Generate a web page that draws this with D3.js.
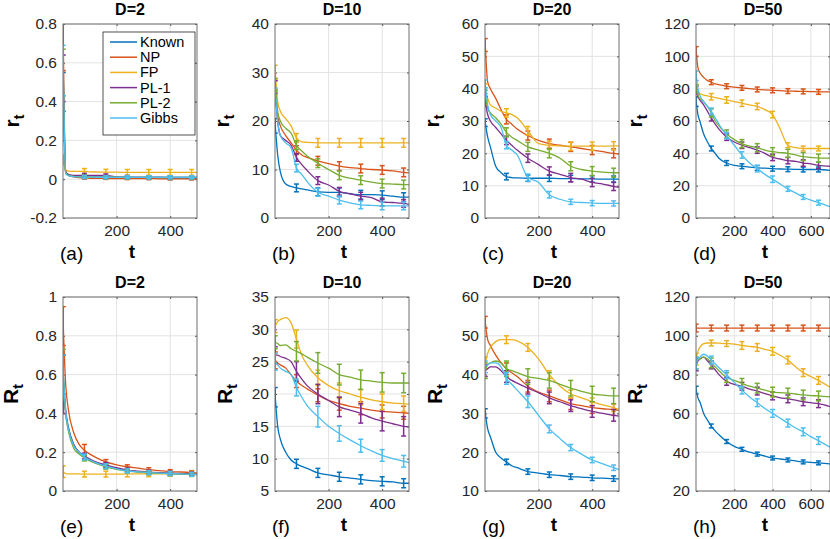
<!DOCTYPE html>
<html>
<head>
<meta charset="utf-8">
<script src="https://cdn.jsdelivr.net/npm/d3@7"></script>
<style>
body { margin: 0; background: #fff; }
svg { display: block; font-family: "Liberation Sans", Arial, Helvetica, sans-serif; }
</style>
</head>
<body>
<div id="chart"></div>
<script>
const methods = ["Known", "NP", "FP", "PL-1", "PL-2", "Gibbs"];
const methodColors = ["#0072BD", "#D95319", "#EDB120", "#7E2F8E", "#77AC30", "#4DBEEE"];

// time grids (D=2,10,20 run to 500, D=50 runs to 700)
const tShort = [1, 10, 20, 40, 60, 80, 100, 120, 160, 200, 240, 280, 320, 360, 400, 440, 480, 500];
const tLong = [1, 10, 20, 40, 60, 80, 100, 120, 160, 200, 240, 280, 320, 360, 400, 440, 480, 520, 560, 600, 640, 700];
const barShort = [1, 80, 160, 240, 320, 400, 480];
const barLong = [1, 80, 160, 240, 320, 400, 480, 560, 640];

// (a) r_t, D=2 -- rows follow `methods`
const rD2 = [
	[0.45, 0.03, 0.02, 0.015, 0.013, 0.012, 0.011, 0.01, 0.01, 0.009, 0.008, 0.008, 0.007, 0.007, 0.006, 0.006, 0.006, 0.006],
	[0.7, 0.04, 0.02, 0.012, 0.008, 0.006, 0.005, 0.004, 0.004, 0.003, 0.003, 0.003, 0.003, 0.002, 0.002, 0.002, 0.002, 0.002],
	[0.1, 0.045, 0.042, 0.04, 0.04, 0.04, 0.038, 0.037, 0.036, 0.036, 0.035, 0.035, 0.035, 0.035, 0.035, 0.035, 0.035, 0.035],
	[0.52, 0.04, 0.025, 0.02, 0.02, 0.02, 0.02, 0.019, 0.019, 0.012, 0.011, 0.01, 0.01, 0.01, 0.009, 0.009, 0.009, 0.009],
	[0.55, 0.035, 0.02, 0.015, 0.013, 0.012, 0.011, 0.011, 0.01, 0.01, 0.01, 0.009, 0.009, 0.009, 0.009, 0.009, 0.009, 0.009],
	[0.56, 0.03, 0.018, 0.013, 0.012, 0.011, 0.011, 0.01, 0.01, 0.01, 0.01, 0.01, 0.01, 0.01, 0.01, 0.01, 0.01, 0.01]
];
const rD2Err = [
	[0.1, 0.01, 0.008, 0.008, 0.008, 0.008, 0.008],
	[0.14, 0.006, 0.005, 0.005, 0.005, 0.005, 0.005],
	[0.025, 0.015, 0.015, 0.015, 0.015, 0.015, 0.015],
	[0.12, 0.01, 0.008, 0.008, 0.008, 0.008, 0.008],
	[0.12, 0.008, 0.008, 0.008, 0.008, 0.008, 0.008],
	[0.13, 0.008, 0.008, 0.008, 0.008, 0.008, 0.008]
];

// (b) r_t, D=10
const rD10 = [
	[19, 13, 9.5, 7, 6.5, 6.2, 6, 5.8, 5.4, 5.3, 5.3, 5, 4.8, 4.8, 4.7, 4.5, 4.3, 4.3],
	[25, 21, 19, 17, 15.5, 14, 13, 12.5, 11.8, 11.2, 10.7, 10.4, 10.2, 10, 9.9, 9.7, 9.4, 9.3],
	[30, 24, 22, 20.5, 19, 16.5, 15.7, 15.6, 15.5, 15.5, 15.5, 15.5, 15.5, 15.5, 15.5, 15.5, 15.5, 15.5],
	[27, 20, 17, 16, 15, 12.5, 11, 9.8, 7.7, 6.8, 5.5, 5, 4.5, 4.2, 3.3, 3.2, 3, 2.8],
	[27.5, 22, 20, 18.5, 17.5, 15, 13.8, 12.8, 11.3, 10, 8.8, 8.2, 7.8, 7.4, 7.1, 7, 6.9, 6.9],
	[25.5, 20, 17, 15.5, 14.5, 10.3, 9, 7.5, 5.3, 4.5, 3.7, 3.1, 2.7, 2.6, 2.5, 2.5, 2.5, 2.5]
];
const rD10Err = [
	[1.5, 0.8, 0.8, 0.9, 0.9, 0.9, 0.9],
	[1.5, 0.9, 0.9, 0.9, 0.9, 0.9, 0.9],
	[1.5, 0.9, 0.9, 0.9, 0.9, 0.9, 0.9],
	[1.3, 0.8, 0.8, 0.8, 0.8, 0.8, 0.8],
	[1.3, 0.9, 0.9, 0.9, 0.9, 0.9, 0.9],
	[1.3, 0.8, 0.8, 0.8, 0.8, 0.8, 0.8]
];

// (c) r_t, D=20
const rD20 = [
	[29.5, 25, 22, 16, 14, 12.8, 12.5, 12.4, 12.3, 12.3, 12.3, 12.2, 12.2, 12.1, 12.1, 12, 12, 12],
	[53.5, 42, 40, 37, 33.5, 30.5, 29, 27.5, 25.5, 24, 23, 22.5, 22, 21.5, 21, 20.5, 20, 19.8],
	[40, 37, 35, 34, 33, 32.5, 32, 31, 27, 23, 22.5, 22.3, 22.2, 22.2, 22.2, 22.2, 22.3, 22.3],
	[36, 32, 30, 28, 26, 24, 22.5, 21, 18.5, 16.5, 14.5, 13.5, 12.5, 12, 11, 10.5, 9.8, 9.5],
	[38, 34, 32.5, 31, 29, 26.5, 25, 24, 22, 21, 20, 18.5, 16, 15, 14.5, 14.2, 14, 14],
	[41.5, 35, 32, 30, 28, 22.5, 21, 19.5, 12.5, 11, 7.2, 5.8, 5, 4.8, 4.6, 4.5, 4.5, 4.5]
];
const rD20Err = [
	[1.2, 1, 1, 1, 1, 1, 1],
	[2, 1.4, 1.4, 1.4, 1.4, 1.4, 1.4],
	[1.5, 1.3, 1.3, 1.3, 1.3, 1.3, 1.3],
	[1.5, 1.3, 1.3, 1.3, 1.3, 1.3, 1.3],
	[1.5, 1.4, 1.4, 1.4, 1.4, 1.4, 1.4],
	[1.2, 1.1, 1.1, 1, 0.8, 0.8, 0.8]
];

// (d) r_t, D=50
const rD50 = [
	[72, 64, 60, 52, 47, 43, 40, 37, 34, 32.5, 32, 31.5, 31, 30.8, 30.5, 30.3, 30.2, 30.1, 30, 30, 30, 29.5],
	[103, 93, 90, 87, 85, 84, 83, 82.5, 81.5, 81, 80.5, 80, 79.5, 79.2, 79, 78.8, 78.5, 78.4, 78.3, 78.2, 78, 78],
	[80, 78, 77, 76, 75.5, 75, 74.5, 74, 73, 72, 71, 70, 69, 67, 64, 55, 45, 43.5, 43, 43, 43, 43],
	[79, 75, 73, 70, 66, 62, 58, 55, 50, 47, 45, 43.5, 42, 40, 37.5, 36.5, 35.5, 35, 34, 33.5, 32.5, 32],
	[80, 76, 74, 72, 69, 65, 60, 57, 52, 48.5, 46, 44.5, 43.5, 42, 41, 40.5, 40, 39, 38, 37.5, 37, 37],
	[88, 80, 76, 72, 69, 66, 62, 58, 51, 45, 39, 34, 30.5, 27, 24, 21, 18, 15.5, 13, 11, 9.5, 7]
];
const rD50Err = [
	[3, 1.5, 1.5, 1.5, 1.5, 1.5, 1.5, 1.5, 1.5],
	[3, 1.5, 1.5, 1.5, 1.5, 1.5, 1.5, 1.5, 1.5],
	[2.5, 2, 2, 2, 2, 2, 1.5, 1.5, 1.5],
	[2.5, 2, 2, 2, 2, 2, 2, 2, 2],
	[2.5, 2.5, 2.5, 2.5, 2.5, 2.5, 2.5, 2.5, 2.5],
	[3, 2, 2, 2, 2, 2, 1.5, 1.5, 1.5]
];

// (e) R_t, D=2
const cD2 = [
	[0.6, 0.42, 0.33, 0.24, 0.2, 0.175, 0.16, 0.148, 0.13, 0.115, 0.105, 0.1, 0.095, 0.092, 0.09, 0.088, 0.086, 0.085],
	[0.85, 0.55, 0.42, 0.3, 0.24, 0.21, 0.19, 0.175, 0.15, 0.135, 0.125, 0.118, 0.11, 0.105, 0.1, 0.098, 0.095, 0.093],
	[0.1, 0.09, 0.088, 0.088, 0.088, 0.087, 0.087, 0.087, 0.087, 0.087, 0.088, 0.088, 0.089, 0.089, 0.089, 0.089, 0.089, 0.089],
	[0.55, 0.4, 0.32, 0.24, 0.2, 0.18, 0.165, 0.152, 0.135, 0.12, 0.108, 0.102, 0.097, 0.094, 0.092, 0.09, 0.088, 0.087],
	[0.6, 0.4, 0.31, 0.22, 0.19, 0.17, 0.155, 0.143, 0.125, 0.112, 0.103, 0.098, 0.094, 0.091, 0.089, 0.087, 0.085, 0.084],
	[0.6, 0.41, 0.32, 0.235, 0.2, 0.175, 0.16, 0.148, 0.128, 0.114, 0.104, 0.099, 0.095, 0.092, 0.09, 0.088, 0.086, 0.085]
];
const cD2Err = [
	[0.1, 0.015, 0.012, 0.01, 0.01, 0.01, 0.01],
	[0.1, 0.03, 0.012, 0.01, 0.01, 0.01, 0.01],
	[0.03, 0.015, 0.015, 0.015, 0.015, 0.012, 0.012],
	[0.15, 0.015, 0.012, 0.01, 0.01, 0.01, 0.01],
	[0.13, 0.015, 0.012, 0.01, 0.01, 0.01, 0.01],
	[0.1, 0.015, 0.012, 0.01, 0.01, 0.01, 0.01]
];

// (f) R_t, D=10
const cD10 = [
	[19.5, 15, 13, 11, 9.8, 9.2, 8.8, 8.5, 7.8, 7.5, 7.2, 7, 6.8, 6.6, 6.5, 6.4, 6.2, 6.2],
	[25.2, 24.8, 24.5, 24, 23, 22, 21.3, 20.8, 19.8, 19, 18.5, 18.1, 17.8, 17.5, 17.3, 17.2, 17.1, 17],
	[30.5, 31.2, 31.5, 31.8, 31, 28.5, 26, 24.5, 22.5, 21.3, 20.5, 20, 19.5, 19.1, 18.8, 18.6, 18.5, 18.4],
	[26, 26, 25.8, 25.5, 25, 23.5, 22.3, 21.3, 20, 19, 18, 17.5, 17, 16.3, 15.8, 15.4, 15, 14.9],
	[28, 27.8, 27.5, 27.6, 27, 26.6, 26.2, 25.7, 24.8, 24, 23, 22.6, 22.2, 22, 21.8, 21.7, 21.7, 21.7],
	[25, 24.5, 24, 23.5, 23, 21, 19.5, 18.2, 16.5, 15, 13.9, 12.9, 12, 11.2, 10.5, 10, 9.6, 9.4]
];
const cD10Err = [
	[1.5, 0.7, 0.7, 0.7, 0.7, 0.7, 0.7],
	[1.3, 1, 1, 1, 1, 1, 1],
	[1, 1.4, 1.2, 1.2, 1.2, 1.2, 1.2],
	[1.3, 1.5, 1.5, 1.5, 1.5, 1.5, 1.5],
	[1, 1.5, 1.6, 1.6, 1.5, 1.5, 1.5],
	[1.3, 1.3, 1.6, 1.2, 1, 0.9, 0.9]
];

// (g) R_t, D=20
const cD20 = [
	[30, 26, 24, 20, 18.5, 17.5, 16.5, 16, 15, 14.6, 14.2, 14, 13.7, 13.6, 13.4, 13.3, 13.2, 13.1],
	[53.5, 49, 47.5, 45, 43, 41.5, 40.5, 39.5, 37, 35.5, 34.5, 33.5, 32.5, 32, 31.5, 31.2, 31, 30.8],
	[43, 45.5, 47, 48.5, 49, 49, 49, 48.7, 47, 44, 40, 37, 35, 34, 33, 32.2, 31.5, 31],
	[41, 41.5, 42, 42, 41, 39.5, 38.5, 37.8, 36.5, 35.3, 34, 33, 32, 31.2, 30.5, 30, 29.5, 29.3],
	[41, 42.5, 43, 43.5, 43, 41.5, 41, 40.5, 39.5, 39, 38.5, 37.5, 36.5, 35.7, 35, 34.7, 34.5, 34.5],
	[42, 42.5, 43, 43, 42, 39, 37.5, 36, 33, 29.5, 26, 23.5, 21.2, 19.5, 18, 17, 16, 15.5]
];
const cD20Err = [
	[1.2, 0.7, 0.7, 0.7, 0.7, 0.7, 0.7],
	[1.5, 1.5, 1.5, 1.5, 1.5, 1.5, 1.5],
	[1.5, 1, 1, 1, 1, 1, 1],
	[1.5, 1.5, 1.5, 1.5, 1.5, 1.5, 1.5],
	[2, 2, 2, 2, 2, 2, 2],
	[1.5, 1.5, 1.5, 1, 0.8, 0.7, 0.7]
];

// (h) R_t, D=50
const cD50 = [
	[72, 68, 66, 60, 56.5, 53.5, 51, 49, 45.5, 43, 41.5, 40, 39, 38, 37, 36.5, 36, 35.5, 35, 34.8, 34.5, 34],
	[104, 104, 104, 104, 104, 104, 104, 104, 104, 104, 104, 104, 104, 104, 104, 104, 104, 104, 104, 104, 104, 104],
	[88, 92, 94, 96, 96.3, 96.3, 96.3, 96.2, 96, 95.7, 95, 94.5, 94, 93, 92, 90, 87.5, 84, 81, 79, 77, 73.5],
	[85, 87, 88, 89, 87, 85, 82.5, 80, 76.5, 75, 74, 72.5, 71.5, 70.2, 69, 68, 67.5, 66.8, 66, 65.5, 65, 63.5],
	[86, 87.5, 88, 89, 88, 86, 84, 82, 78.5, 77, 75.5, 74, 73, 72, 71, 70.7, 70.5, 70, 69.5, 69.2, 69, 68.5],
	[86, 88, 89, 90.5, 89.5, 87.5, 85.5, 83.5, 80, 76, 72, 68.5, 65.5, 62.5, 60, 57.5, 55, 52.5, 50.5, 48, 46, 42.5]
];
const cD50Err = [
	[2, 1, 1, 1, 1, 1, 1, 1, 1],
	[2, 1.5, 1.5, 1.5, 1.5, 1.5, 1.5, 1.5, 1.5],
	[3, 1.5, 1.5, 2, 2, 2, 2, 2, 2],
	[3, 2, 2, 2, 2, 2, 2, 2, 2],
	[3, 2.5, 2.5, 2.5, 2.5, 2.5, 2.5, 2.5, 2.5],
	[3, 2, 2, 2, 2, 2, 2, 2, 2]
];

const panels = [
	{letter: "(a)", title: "D=2", label: "r", col: 0, row: 0, labelX: 19, t: tShort, bars: barShort, xMax: 500, yDomain: [-0.2, 0.8], yStep: 0.2, values: rD2, errors: rD2Err, legend: true},
	{letter: "(b)", title: "D=10", label: "r", col: 1, row: 0, labelX: 229, t: tShort, bars: barShort, xMax: 500, yDomain: [0, 40], yStep: 10, values: rD10, errors: rD10Err},
	{letter: "(c)", title: "D=20", label: "r", col: 2, row: 0, labelX: 439, t: tShort, bars: barShort, xMax: 500, yDomain: [0, 60], yStep: 10, values: rD20, errors: rD20Err},
	{letter: "(d)", title: "D=50", label: "r", col: 3, row: 0, labelX: 642, t: tLong, bars: barLong, xMax: 700, yDomain: [0, 120], yStep: 20, values: rD50, errors: rD50Err},
	{letter: "(e)", title: "D=2", label: "R", col: 0, row: 1, labelX: 18, t: tShort, bars: barShort, xMax: 500, yDomain: [0, 1], yStep: 0.2, values: cD2, errors: cD2Err},
	{letter: "(f)", title: "D=10", label: "R", col: 1, row: 1, labelX: 232, t: tShort, bars: barShort, xMax: 500, yDomain: [5, 35], yStep: 5, values: cD10, errors: cD10Err},
	{letter: "(g)", title: "D=20", label: "R", col: 2, row: 1, labelX: 442, t: tShort, bars: barShort, xMax: 500, yDomain: [10, 60], yStep: 10, values: cD20, errors: cD20Err},
	{letter: "(h)", title: "D=50", label: "R", col: 3, row: 1, labelX: 642, t: tLong, bars: barLong, xMax: 700, yDomain: [20, 120], yStep: 20, values: cD50, errors: cD50Err}
];

// layout
const width = 830;
const height = 539;
const colLeft = [63, 275, 485, 696];
const rowTop = [24, 297];
const plotW = 134;
const plotH = 194;
const textColor = "#262626";

/* eslint-disable indent */
const svg = d3.select("#chart")
	.append("svg")
		.attr("width", width)
		.attr("height", height);

panels.forEach((p, pi) => {
	const left = colLeft[p.col];
	const top = rowTop[p.row];
	const x = d3.scaleLinear().domain([0, p.xMax]).range([0, plotW]);
	const y = d3.scaleLinear().domain(p.yDomain).range([plotH, 0]);
	const xTicks = d3.range(200, p.xMax, 200);
	const yTicks = d3.range(p.yDomain[0], p.yDomain[1] + p.yStep / 2, p.yStep).map(v => +v.toFixed(3));

	const g = svg.append("g")
		.attr("transform", `translate(${left},${top})`);

	g.append("clipPath")
		.attr("id", "clip" + pi)
		.append("rect")
			.attr("width", plotW)
			.attr("height", plotH);

	// grid
	g.append("g")
		.selectAll("line.gx")
		.data(xTicks)
		.join("line")
			.attr("x1", d => x(d)).attr("x2", d => x(d))
			.attr("y1", 0).attr("y2", plotH)
			.attr("stroke", "#e3e3e3");
	g.append("g")
		.selectAll("line.gy")
		.data(yTicks)
		.join("line")
			.attr("x1", 0).attr("x2", plotW)
			.attr("y1", d => y(d)).attr("y2", d => y(d))
			.attr("stroke", "#e3e3e3");

	// axes (MATLAB style: inward ticks on all sides)
	const fmt = d => String(+d.toFixed(2));
	g.append("g")
			.attr("transform", `translate(0,${plotH})`)
			.call(d3.axisBottom(x).tickValues(xTicks).tickSizeInner(-2).tickSizeOuter(0).tickPadding(7).tickFormat(fmt))
		.call(a => a.select(".domain").remove())
		.selectAll("text")
			.attr("font-size", "15.5px")
			.attr("fill", textColor);
	g.append("g")
			.call(d3.axisTop(x).tickValues(xTicks).tickSizeInner(-2).tickSizeOuter(0).tickFormat(""))
		.call(a => a.select(".domain").remove());
	g.append("g")
			.call(d3.axisLeft(y).tickValues(yTicks).tickSizeInner(-2).tickSizeOuter(0).tickPadding(6).tickFormat(fmt))
		.call(a => a.select(".domain").remove())
		.selectAll("text")
			.attr("font-size", "15.5px")
			.attr("fill", textColor);
	g.append("g")
			.attr("transform", `translate(${plotW},0)`)
			.call(d3.axisRight(y).tickValues(yTicks).tickSizeInner(-2).tickSizeOuter(0).tickFormat(""))
		.call(a => a.select(".domain").remove());
	g.selectAll(".tick line").attr("stroke", "#555");

	// series
	const line = d3.line()
		.x(d => x(d[0]))
		.y(d => y(d[1]))
		.curve(d3.curveMonotoneX);
	const plot = g.append("g")
		.attr("clip-path", `url(#clip${pi})`);

	p.values.forEach((vals, mi) => {
		const pts = p.t.map((t, i) => [t, vals[i]]);
		plot.append("path")
			.datum(pts)
			.attr("fill", "none")
			.attr("stroke", methodColors[mi])
			.attr("stroke-width", 1.3)
			.attr("d", line);

		const bars = p.bars.map((t, i) => ({t: t, v: vals[p.t.indexOf(t)], e: p.errors[mi][i]}));
		const eb = plot.append("g")
			.attr("stroke", methodColors[mi])
			.attr("stroke-width", 1.5)
			.selectAll("g")
			.data(bars)
			.join("g");
		eb.append("line")
			.attr("x1", d => x(d.t)).attr("x2", d => x(d.t))
			.attr("y1", d => y(d.v - d.e)).attr("y2", d => y(d.v + d.e));
		eb.append("line")
			.attr("x1", d => x(d.t) - 2.5).attr("x2", d => x(d.t) + 2.5)
			.attr("y1", d => y(d.v + d.e)).attr("y2", d => y(d.v + d.e));
		eb.append("line")
			.attr("x1", d => x(d.t) - 2.5).attr("x2", d => x(d.t) + 2.5)
			.attr("y1", d => y(d.v - d.e)).attr("y2", d => y(d.v - d.e));
	});

	// box
	g.append("rect")
		.attr("width", plotW)
		.attr("height", plotH)
		.attr("fill", "none")
		.attr("stroke", "#6e6e6e")
		.attr("stroke-width", 1);

	// title
	g.append("text")
		.attr("x", plotW / 2)
		.attr("y", -9)
		.attr("text-anchor", "middle")
		.attr("font-size", "16px")
		.attr("font-weight", "bold")
		.attr("fill", "#000")
		.text(p.title);

	// x label and panel letter
	g.append("text")
		.attr("x", plotW / 2 + 2)
		.attr("y", plotH + 40)
		.attr("text-anchor", "middle")
		.attr("font-size", "19px")
		.attr("font-weight", "bold")
		.attr("fill", "#000")
		.text("t");
	g.append("text")
		.attr("x", -3)
		.attr("y", plotH + 42)
		.attr("font-size", "19px")
		.attr("fill", "#000")
		.text(p.letter);

	// y label with subscript
	const yl = svg.append("text")
		.attr("transform", `translate(${p.labelX},${top + plotH / 2}) rotate(-90)`)
		.attr("text-anchor", "middle")
		.attr("font-weight", "bold")
		.attr("fill", "#000");
	yl.append("tspan")
		.attr("font-size", "21px")
		.text(p.label);
	yl.append("tspan")
		.attr("font-size", "15px")
		.attr("dy", 5)
		.text("t");

	// legend
	if (p.legend) {
		const lg = g.append("g")
			.attr("transform", "translate(40,8)");
		lg.append("rect")
			.attr("width", 92)
			.attr("height", 103)
			.attr("fill", "#fff")
			.attr("stroke", "#262626")
			.attr("stroke-width", 0.8);
		const item = lg.selectAll("g.item")
			.data(methods)
			.join("g")
				.attr("transform", (d, i) => `translate(0,${10 + i * 15.2})`);
		item.append("line")
			.attr("x1", 7).attr("x2", 34)
			.attr("stroke", (d, i) => methodColors[i])
			.attr("stroke-width", 1.5);
		item.append("text")
			.attr("x", 37)
			.attr("dy", "0.35em")
			.attr("font-size", "14.5px")
			.attr("fill", "#000")
			.text(d => d);
	}
});
/* eslint-enable */
</script>
</body>
</html>
